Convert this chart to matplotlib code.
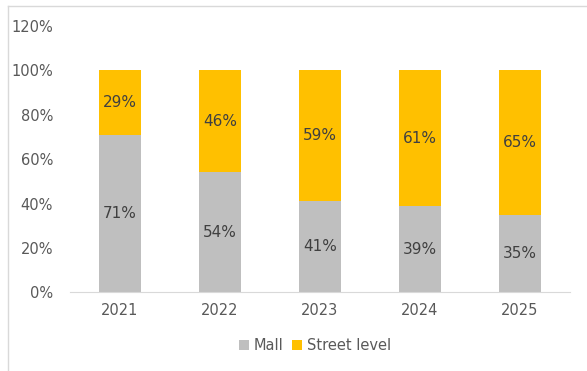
import matplotlib.pyplot as plt
from matplotlib.lines import Line2D
import numpy as np

years = ['2021', '2022', '2023', '2024', '2025']
mall = [71, 54, 41, 39, 35]
street = [29, 46, 59, 61, 65]

fig = plt.figure(figsize=(5.87, 3.71), dpi=100)
ax = fig.add_axes([0.119, 0.212, 0.852, 0.718])

x = np.arange(len(years))
b1 = ax.bar(x, mall, width=0.42, color='#BFBFBF', label='Mall')
b2 = ax.bar(x, street, width=0.42, bottom=mall, color='#FFC000', label='Street level')

for i in range(len(years)):
    ax.text(x[i], mall[i] / 2, f'{mall[i]}%', ha='center', va='center',
            fontsize=11, color='#404040')
    ax.text(x[i], mall[i] + street[i] / 2, f'{street[i]}%', ha='center', va='center',
            fontsize=11, color='#404040')

ax.set_xlim(-0.5, 4.5)
ax.set_ylim(0, 120)
ax.set_yticks(range(0, 121, 20))
ax.set_yticklabels([f'{v}%' for v in range(0, 121, 20)])
ax.set_xticks(x)
ax.set_xticklabels(years)
ax.tick_params(length=0, labelsize=10.5, colors='#595959', pad=8)
ax.tick_params(axis='y', pad=12)
for s in ['top', 'right', 'left']:
    ax.spines[s].set_visible(False)
ax.spines['bottom'].set_color('#D9D9D9')

ax.legend(loc='center', bbox_to_anchor=(0.5 - 0.01, -0.2), ncol=2, frameon=False,
          fontsize=10.5, labelcolor='#595959', handlelength=0.7, handleheight=0.7,
          handletextpad=0.3, columnspacing=0.6)

# outer chart border (top and left edges visible)
fig.add_artist(Line2D([8 / 587, 8 / 587], [0, 1 - 6 / 371], color='#D9D9D9', lw=1))
fig.add_artist(Line2D([8 / 587, 1], [1 - 6 / 371, 1 - 6 / 371], color='#D9D9D9', lw=1))

fig.savefig('out.png', dpi=100)
